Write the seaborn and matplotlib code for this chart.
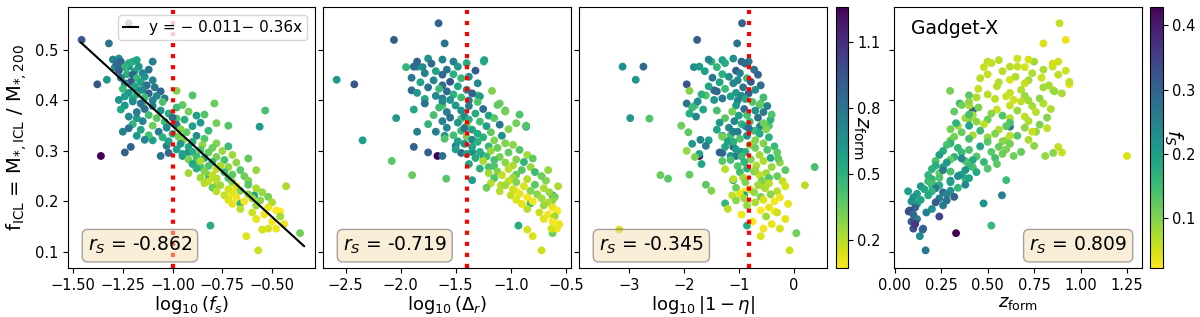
import numpy as np
import pandas as pd
import matplotlib
matplotlib.use("Agg")
import matplotlib.pyplot as plt
import seaborn as sns

# ---------------------------------------------------------
# halo values (one entry per cluster)
# ---------------------------------------------------------
f_icl = [
    0.520, 0.553, 0.513, 0.290, 0.137, 0.103, 0.466, 0.432, 0.441, 0.467,
    0.467, 0.365, 0.364, 0.144, 0.321, 0.280, 0.252, 0.245, 0.268, 0.232,
    0.220, 0.180, 0.146, 0.146, 0.131, 0.152, 0.196, 0.212, 0.242, 0.419,
    0.410, 0.380, 0.390, 0.477, 0.480, 0.483, 0.477, 0.420, 0.290, 0.296,
    0.310, 0.298, 0.290, 0.348, 0.394, 0.350, 0.230, 0.297, 0.308, 0.330,
    0.481, 0.477, 0.474, 0.473, 0.467, 0.466, 0.461, 0.459, 0.458, 0.454,
    0.452, 0.451, 0.447, 0.445, 0.444, 0.440, 0.437, 0.436, 0.434, 0.430,
    0.428, 0.426, 0.423, 0.421, 0.418, 0.415, 0.414, 0.412, 0.409, 0.408,
    0.406, 0.404, 0.403, 0.400, 0.401,
    0.398, 0.397, 0.394, 0.391, 0.390, 0.389, 0.386, 0.383, 0.382, 0.380,
    0.378, 0.377, 0.374, 0.371, 0.370, 0.368, 0.366, 0.365, 0.362, 0.359,
    0.358, 0.356, 0.353, 0.352, 0.350, 0.349, 0.346, 0.343, 0.342, 0.340,
    0.338, 0.337, 0.334, 0.331, 0.330, 0.328, 0.327, 0.324, 0.322, 0.321,
    0.319, 0.338, 0.355, 0.372, 0.345,
    0.318, 0.315, 0.314, 0.312, 0.309, 0.308, 0.306, 0.303, 0.302, 0.300,
    0.298, 0.297, 0.294, 0.292, 0.289, 0.288, 0.286, 0.283, 0.282, 0.280,
    0.278, 0.277, 0.274, 0.271, 0.270, 0.268, 0.265, 0.264, 0.262, 0.259,
    0.258, 0.256, 0.253, 0.252, 0.250, 0.247, 0.246, 0.244, 0.241, 0.240,
    0.262, 0.285,
    0.238, 0.236, 0.233, 0.232, 0.230, 0.227, 0.226, 0.224, 0.221, 0.220,
    0.218, 0.215, 0.214, 0.212, 0.209, 0.208, 0.206, 0.203, 0.202, 0.200,
    0.198, 0.195, 0.192, 0.188, 0.185, 0.182, 0.178, 0.174, 0.170, 0.165,
    0.160, 0.155,
]

log_fs = [
    -1.457, -1.22, -1.32, -1.36, -0.36, -0.57, -1.29, -1.378, -1.33, -1.22,
    -1.25, -1.18, -0.98, -0.55, -1.10, -0.88, -0.82, -0.78, -0.86, -0.78,
    -0.70, -0.46, -0.48, -0.52, -0.63, -0.81, -0.66, -0.59, -0.82, -0.98,
    -0.90, -0.535, -1.15, -1.20, -1.18, -1.27, -1.10, -1.17, -1.06, -1.02,
    -1.03, -0.92, -0.95, -0.563, -0.79, -0.72, -0.43, -1.24, -1.21, -1.18,
    -1.30, -1.26, -1.22, -1.28, -1.17, -1.24, -1.12, -1.27, -1.19, -1.15,
    -1.23, -1.20, -1.14, -1.26, -1.18, -1.10, -1.21, -1.16, -1.24, -1.13,
    -1.19, -1.09, -1.25, -1.15, -1.06, -1.22, -1.12, -1.18, -1.08, -1.24,
    -1.14, -1.04, -1.20, -1.10, -1.27,
    -1.20, -1.05, -1.16, -0.95, -1.24, -1.10, -0.98, -1.14, -1.26, -1.06,
    -0.92, -1.18, -1.02, -1.12, -0.88, -1.22, -1.00, -1.08, -0.94, -1.15,
    -1.04, -0.86, -1.20, -0.98, -1.10, -0.90, -1.03, -0.96, -1.16, -0.82,
    -1.07, -0.93, -1.00, -1.12, -0.88, -0.97, -1.05, -0.84, -1.14, -0.95,
    -1.02, -1.25, -0.78, -0.84, -1.22,
    -0.90, -0.78, -0.96, -0.85, -0.72, -0.92, -0.80, -0.98, -0.86, -0.75,
    -0.90, -0.82, -0.95, -0.70, -0.88, -0.78, -0.84, -0.92, -0.74, -0.86,
    -0.80, -0.68, -0.90, -0.76, -0.82, -0.72, -0.88, -0.78, -0.66, -0.84,
    -0.74, -0.92, -0.70, -0.80, -0.64, -0.86, -0.72, -0.78, -0.62, -0.82,
    -0.58, -0.62,
    -0.70, -0.84, -0.62, -0.76, -0.68, -0.80, -0.58, -0.72, -0.66, -0.78,
    -0.55, -0.70, -0.62, -0.74, -0.52, -0.68, -0.60, -0.72, -0.56, -0.64,
    -0.50, -0.70, -0.58, -0.52, -0.66, -0.48, -0.60, -0.54, -0.46, -0.58,
    -0.50, -0.44,
]

z_form = [
    0.92, 0.887, 0.80, 1.25, 0.33, 0.166, 0.70, 0.94, 0.62, 0.66,
    0.85, 0.62, 0.40, 0.15, 0.60, 0.38, 0.35, 0.38, 0.42, 0.20,
    0.072, 0.075, 0.10, 0.153, 0.135, 0.52, 0.478, 0.577, 0.60, 0.298,
    0.40, 0.42, 0.40, 0.50, 0.56, 0.66, 0.75, 0.853, 0.81, 0.853,
    0.75, 0.68, 0.64, 0.62, 0.35, 0.40, 0.22, 0.90, 0.88, 0.62,
    0.72, 0.88, 0.52, 0.85, 0.62, 0.48, 0.80, 0.92, 0.58, 0.74,
    0.50, 0.88, 0.65, 0.79, 0.46, 0.72, 0.94, 0.56, 0.70, 0.83,
    0.55, 0.80, 0.45, 0.68, 0.86, 0.62, 0.90, 0.50, 0.70, 0.60,
    0.44, 0.78, 0.54, 0.72, 0.64,
    0.68, 0.40, 0.80, 0.36, 0.62, 0.74, 0.45, 0.84, 0.55, 0.66,
    0.32, 0.76, 0.52, 0.42, 0.58, 0.70, 0.82, 0.38, 0.50, 0.72,
    0.44, 0.62, 0.48, 0.78, 0.34, 0.60, 0.70, 0.30, 0.56, 0.46,
    0.76, 0.36, 0.54, 0.42, 0.66, 0.32, 0.50, 0.40, 0.72, 0.30,
    0.58, 0.74, 0.33, 0.40, 0.82,
    0.50, 0.30, 0.62, 0.28, 0.46, 0.56, 0.34, 0.60, 0.40, 0.26,
    0.52, 0.36, 0.58, 0.24, 0.44, 0.32, 0.54, 0.30, 0.42, 0.22,
    0.48, 0.28, 0.55, 0.22, 0.40, 0.26, 0.50, 0.20, 0.38, 0.30,
    0.44, 0.24, 0.36, 0.18, 0.34, 0.24, 0.40, 0.20, 0.30, 0.18,
    0.26, 0.36,
    0.30, 0.20, 0.38, 0.24, 0.14, 0.34, 0.22, 0.16, 0.30, 0.20,
    0.26, 0.12, 0.28, 0.18, 0.32, 0.10, 0.24, 0.14, 0.28, 0.09,
    0.22, 0.12, 0.26, 0.11, 0.20, 0.08, 0.17, 0.10, 0.24, 0.12,
    0.09, 0.11,
]

log_dr = [
    -2.06, -1.655, -1.60, -1.665, -0.62, -0.72, -1.80, -2.42, -2.58, -1.85,
    -1.88, -2.04, -1.45, -0.85, -2.345, -2.08, -1.895, -1.585, -1.20, -1.09,
    -0.95, -0.58, -0.58, -0.63, -0.80, -0.93, -0.82, -0.62, -1.35, -1.17,
    -1.30, -1.05, -1.62, -1.245, -1.24, -1.75, -1.52, -1.90, -1.62, -1.45,
    -1.50, -1.35, -1.25, -0.86, -1.10, -0.86, -0.57, -1.75, -1.88, -1.60,
    -1.62, -1.85, -1.40, -1.72, -1.48, -1.95, -1.58, -1.32, -1.68, -1.78,
    -1.52, -1.62, -1.38, -1.90, -1.45, -1.70, -1.55, -1.82, -1.30, -1.62,
    -1.48, -1.75, -1.65, -1.40, -1.58, -1.85, -1.35, -1.52, -1.68, -1.28,
    -1.45, -1.62, -1.78, -1.38, -1.55,
    -1.62, -1.30, -1.78, -1.12, -1.50, -1.38, -1.65, -1.25, -1.88, -1.45,
    -1.05, -1.58, -1.32, -1.70, -1.20, -1.42, -1.55, -1.15, -1.38, -1.62,
    -1.28, -1.48, -1.75, -1.10, -1.40, -1.22, -1.58, -1.02, -1.35, -1.45,
    -1.68, -1.18, -1.30, -1.52, -1.08, -1.40, -1.25, -1.60, -1.35, -1.15,
    -1.48, -1.85, -0.95, -0.92, -1.42,
    -1.30, -1.05, -1.42, -0.98, -1.20, -1.35, -1.12, -1.50, -0.92, -1.18,
    -1.28, -1.02, -1.40, -0.85, -1.22, -1.10, -1.32, -0.95, -1.15, -1.25,
    -0.88, -1.05, -1.38, -0.98, -1.15, -0.82, -1.28, -1.02, -0.90, -1.12,
    -0.78, -1.20, -0.95, -1.08, -0.72, -0.98, -1.15, -0.85, -0.68, -1.02,
    -0.66, -0.80,
    -0.95, -1.18, -0.78, -1.05, -0.88, -1.22, -0.70, -0.98, -0.82, -1.10,
    -0.65, -0.92, -0.76, -1.00, -0.60, -0.85, -0.72, -0.95, -0.62, -0.80,
    -0.66, -0.90, -0.70, -0.62, -0.85, -0.58, -0.74, -0.66, -0.60, -0.70,
    -0.62, -0.56,
]

log_eta = [
    -1.76, -0.94, -1.03, -1.72, 0.05, -0.073, -1.82, -1.95, -2.88, -3.12,
    -2.74, -2.98, -2.63, -3.18, -1.55, -1.30, -2.43, -2.29, 0.384, 0.207,
    -0.90, -0.35, -0.55, -0.25, -0.60, -0.85, -1.25, -0.90, -1.10, -1.90,
    -1.60, -1.40, -1.80, -1.50, -1.30, -1.10, -0.82, -1.45, -1.05, -1.30,
    -1.60, -0.95, -1.15, -0.62, -0.60, -0.45, -0.55, -1.35, -1.10, -1.30,
    -1.55, -0.95, -1.25, -0.88, -1.72, -1.40, -0.72, -1.05, -1.62, -0.98,
    -1.30, -0.65, -1.18, -1.48, -0.85, -1.02, -0.78, -1.35, -1.10, -0.60,
    -1.55, -0.92, -1.25, -0.70, -1.40, -1.05, -0.82, -1.68, -0.95, -1.15,
    -0.55, -1.30, -0.88, -1.02, -1.45,
    -1.75, -0.75, -1.95, -0.62, -1.05, -0.48, -1.85, -0.90, -1.65, -0.70,
    -1.12, -0.55, -1.90, -0.85, -1.00, -1.78, -0.65, -1.25, -0.42, -1.08,
    -0.80, -1.35, -0.95, -0.58, -2.05, -0.88, -1.18, -0.50, -1.40, -0.72,
    -1.02, -1.92, -0.62, -1.15, -0.85, -1.30, -0.45, -0.98, -1.70, -0.70,
    -1.20, -1.10, -0.55, -0.40, -0.82,
    -1.10, -0.55, -1.85, -0.80, -0.35, -1.25, -0.70, -1.05, -0.48, -1.95,
    -0.88, -0.30, -1.72, -0.62, -0.95, -1.80, -0.42, -0.78, -1.15, -0.55,
    -0.90, -0.25, -1.68, -0.68, -1.02, -0.40, -0.85, -1.25, -0.15, -0.72,
    -0.98, -0.50, -1.90, -0.62, -0.30, -0.92, -0.45, -1.10, -0.58, -0.20,
    -0.70, -0.28,
    -0.88, -0.45, -1.60, -0.65, -0.15, -1.05, -0.52, -0.80, -1.50, -0.30,
    -0.72, -0.98, -0.42, -1.12, -0.60, -0.25, -0.90, -0.55, -1.05, -0.35,
    -0.70, -0.10, -0.85, -0.45, -1.20, -0.60, -0.30, -0.95, -0.50, -0.15,
    -0.75, -0.40,
]

# fit and statistics quoted in the figure
fit_a, fit_b = -0.011, -0.36
r_s = ["-0.862", "-0.719", "-0.345", "0.809"]
thresholds = [-1.0, -1.4, -0.82]

df = pd.DataFrame({"f_icl": f_icl, "log_fs": log_fs, "z_form": z_form,
                   "log_dr": log_dr, "log_eta": log_eta})
df["f_s"] = 10 ** df["log_fs"]

# ---------------------------------------------------------
# figure
# ---------------------------------------------------------
fig = plt.figure(figsize=(12, 3.17), dpi=100)
bot, hgt = 0.1546, 0.823
ax1 = fig.add_axes([0.0567, bot, 0.2058, hgt])
ax2 = fig.add_axes([0.2692, bot, 0.2067, hgt])
ax3 = fig.add_axes([0.4825, bot, 0.2067, hgt])
cax1 = fig.add_axes([0.6963, bot, 0.0100, hgt])
ax4 = fig.add_axes([0.7450, bot, 0.2067, hgt])
cax2 = fig.add_axes([0.9583, bot, 0.0106, hgt])

z_norm = (0.073, 1.257)
fs_norm = (0.023, 0.428)
box = dict(boxstyle="round", facecolor="wheat", alpha=0.5, edgecolor="0.3")

panels = [(ax1, "log_fs", r"$\log_{10}(f_s)$"),
          (ax2, "log_dr", r"$\log_{10}(\Delta_r)$"),
          (ax3, "log_eta", r"$\log_{10}|1-\eta|$")]
for i, (ax, col, lab) in enumerate(panels):
    sns.scatterplot(data=df, x=col, y="f_icl", hue="z_form", palette="viridis_r",
                    hue_norm=z_norm, s=32, linewidth=0, legend=False, ax=ax)
    ax.axvline(thresholds[i], color="red", ls=":", lw=3, zorder=5)
    ax.set_xlabel(lab, fontsize=13, labelpad=1)
    ax.text(0.08, 0.065, r"$r_S$ = " + r_s[i], transform=ax.transAxes,
            fontsize=13.5, bbox=box, zorder=6)

sns.scatterplot(data=df, x="z_form", y="f_icl", hue="f_s", palette="viridis_r",
                hue_norm=fs_norm, s=32, linewidth=0, legend=False, ax=ax4)
ax4.set_xlabel(r"$z_{\rm form}$", fontsize=13, labelpad=1)
ax4.text(0.94, 0.065, r"$r_S$ = " + r_s[3], transform=ax4.transAxes,
         fontsize=13.5, bbox=box, ha="right", zorder=6)
ax4.text(0.07, 0.955, "Gadget-X", transform=ax4.transAxes, fontsize=13.5, va="top")

# linear fit in the first panel
xfit = np.array([-1.46, -0.34])
ax1.plot(xfit, fit_a + fit_b * xfit, color="black", lw=1.5,
         label="y = \u2212 0.011\u2212 0.36x")
ax1.legend(loc="upper right", fontsize=11, handlelength=1.0,
           borderpad=0.35, handletextpad=0.7, borderaxespad=0.5)

ax1.set_xlim(-1.525, -0.285)
ax2.set_xlim(-2.704, -0.452)
ax3.set_xlim(-3.915, 0.61)
ax4.set_xlim(-0.004, 1.331)
ax2.set_xticks([-2.5, -2.0, -1.5, -1.0, -0.5])
ax3.set_xticks([-3, -2, -1, 0])
ax4.set_xticks([0.0, 0.25, 0.5, 0.75, 1.0, 1.25])

for ax in (ax1, ax2, ax3, ax4):
    ax.set_ylim(0.068, 0.585)
    ax.set_yticks([0.1, 0.2, 0.3, 0.4, 0.5])
    ax.tick_params(labelsize=10.5)
    if ax is not ax1:
        ax.set_yticklabels([])
        ax.set_ylabel("")
ax1.set_ylabel(r"f$_{\rm ICL}$ = M$_{*,\rm ICL}$ / M$_{*,200}$", fontsize=14)

# colorbars
sm1 = plt.cm.ScalarMappable(cmap="viridis_r", norm=plt.Normalize(*z_norm))
cb1 = fig.colorbar(sm1, cax=cax1, ticks=[0.2, 0.5, 0.8, 1.1])
cb1.set_label(r"$z_{\rm form}$", rotation=270, fontsize=14, labelpad=-8)
cb1.ax.tick_params(labelsize=10.5)

sm2 = plt.cm.ScalarMappable(cmap="viridis_r", norm=plt.Normalize(*fs_norm))
cb2 = fig.colorbar(sm2, cax=cax2, ticks=[0.1, 0.2, 0.3, 0.4])
cb2.set_label(r"$f_S$", rotation=270, fontsize=14, labelpad=-8)
cb2.ax.tick_params(labelsize=10.5)

fig.savefig("out.png", dpi=100)
